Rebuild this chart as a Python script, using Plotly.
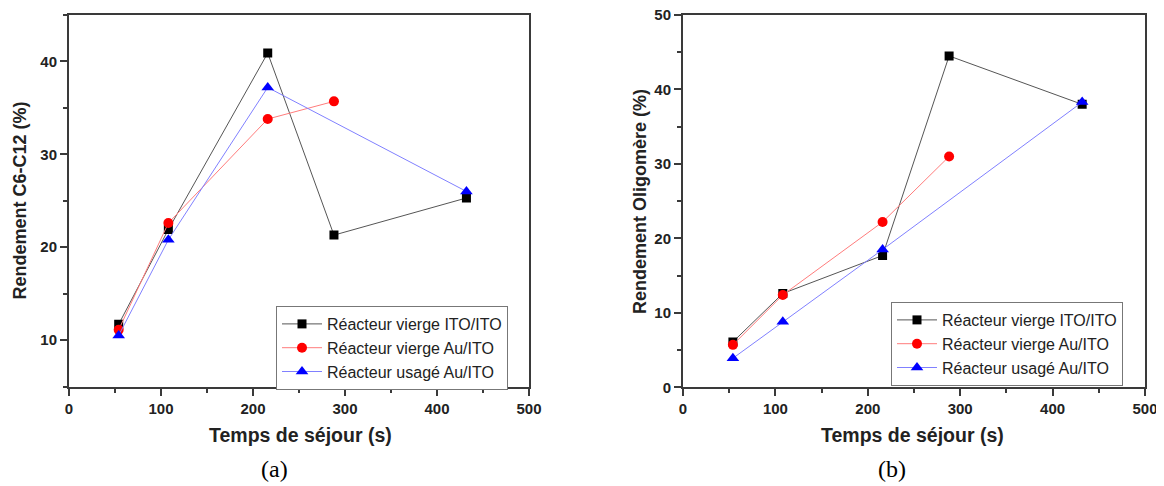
import plotly.graph_objects as go

# ---- data ----
x_all = [54, 108, 216, 288, 432]
x_vierge_au = [54, 108, 216, 288]
x_usage_au = [54, 108, 216, 432]

a_ito_ito = [11.7, 21.9, 40.9, 21.3, 25.3]
a_vierge_au = [11.1, 22.6, 33.8, 35.7]
a_usage_au = [10.5, 20.8, 37.2, 26.0]

b_ito_ito = [6.1, 12.6, 17.7, 44.5, 38.0]
b_vierge_au = [5.7, 12.4, 22.2, 31.0]
b_usage_au = [3.9, 8.8, 18.5, 38.3]

names = ["Réacteur vierge ITO/ITO", "Réacteur vierge Au/ITO", "Réacteur usagé Au/ITO"]
x_title = "Temps de séjour (s)"
y_title_a = "Rendement C6-C12 (%)"
y_title_b = "Rendement Oligomère (%)"

OFF = 8  # page body margin in the browser
W, H = 1164 - OFF, 486 - OFF
SANS = "Liberation Sans, Arial, sans-serif"
SERIF = "Liberation Serif, Times New Roman, serif"

styles = [
    dict(line=dict(color="#555555", width=1), marker=dict(symbol="square", size=9, color="#000000")),
    dict(line=dict(color="#ff7c7c", width=1), marker=dict(symbol="circle", size=10, color="#ff0000")),
    dict(line=dict(color="#8080ff", width=1), marker=dict(symbol="triangle-up", size=11, color="#0000ff")),
]

fig = go.Figure()
panel_a = [(x_all, a_ito_ito), (x_vierge_au, a_vierge_au), (x_usage_au, a_usage_au)]
panel_b = [(x_all, b_ito_ito), (x_vierge_au, b_vierge_au), (x_usage_au, b_usage_au)]
for i, (xs, ys) in enumerate(panel_a):
    fig.add_trace(go.Scatter(x=xs, y=ys, mode="lines+markers", name=names[i],
                             xaxis="x", yaxis="y", legend="legend", **styles[i]))
for i, (xs, ys) in enumerate(panel_b):
    fig.add_trace(go.Scatter(x=xs, y=ys, mode="lines+markers", name=names[i],
                             xaxis="x2", yaxis="y2", legend="legend2", **styles[i]))

def px_x(p):
    return (p - OFF) / W

def px_y(p):
    return 1 - (p - OFF) / H

tickfont = dict(family=SANS, size=15, color="#222222", weight="bold")
common = dict(showline=True, linecolor="#3a3a3a", linewidth=2, mirror=True,
              ticks="outside", ticklen=7, tickwidth=1.5, tickcolor="#3a3a3a",
              showgrid=False, zeroline=False, tickfont=tickfont, automargin=False,
              ticklabeloverflow="allow")
minor = dict(ticks="outside", ticklen=4, tickwidth=1.5, tickcolor="#3a3a3a", showgrid=False)

ya_top, ya_bot = 15, 386.5
yb_top, yb_bot = 15, 387.3

legend_font = dict(family=SANS, size=16, color="#222222")

fig.update_layout(
    template="none",
    width=W, height=H,
    margin=dict(l=0, r=0, t=0, b=0, pad=0, autoexpand=False),
    paper_bgcolor="white", plot_bgcolor="white",
    xaxis=dict(domain=[px_x(69), px_x(529)], range=[0, 500], tick0=0, dtick=100,
               minor=dict(dtick=50, **minor), anchor="y", **common),
    yaxis=dict(domain=[px_y(ya_bot), px_y(ya_top)], range=[5, 45], tick0=0, dtick=10,
               minor=dict(dtick=5, **minor), anchor="x", **common),
    xaxis2=dict(domain=[px_x(683), px_x(1145)], range=[0, 500], tick0=0, dtick=100,
                minor=dict(dtick=50, **minor), anchor="y2", **common),
    yaxis2=dict(domain=[px_y(yb_bot), px_y(yb_top)], range=[0, 50], tick0=0, dtick=10,
                minor=dict(dtick=5, **minor), anchor="x2", **common),
    legend=dict(x=px_x(276), y=px_y(306), xanchor="left", yanchor="top",
                bgcolor="white", bordercolor="#777777", borderwidth=1,
                itemwidth=40, font=legend_font),
    legend2=dict(x=px_x(891), y=px_y(302), xanchor="left", yanchor="top",
                 bgcolor="white", bordercolor="#777777", borderwidth=1,
                 itemwidth=40, font=legend_font),
)

ann = []
for cx in (300, 912):
    ann.append(dict(text=x_title, x=px_x(cx), y=px_y(435), xref="paper", yref="paper",
                    showarrow=False, xanchor="center", yanchor="middle",
                    font=dict(family=SANS, size=19.5, color="#222222", weight="bold")))
ann.append(dict(text=y_title_a, x=px_x(19.5), y=px_y(201), xref="paper", yref="paper",
                showarrow=False, xanchor="center", yanchor="middle", textangle=-90,
                font=dict(family=SANS, size=18, color="#222222", weight="bold")))
ann.append(dict(text=y_title_b, x=px_x(640), y=px_y(202), xref="paper", yref="paper",
                showarrow=False, xanchor="center", yanchor="middle", textangle=-90,
                font=dict(family=SANS, size=18, color="#222222", weight="bold")))
ann.append(dict(text="(a)", x=px_x(274), y=px_y(469), xref="paper", yref="paper",
                showarrow=False, xanchor="center", yanchor="middle",
                font=dict(family=SERIF, size=24, color="#000000")))
ann.append(dict(text="(b)", x=px_x(892), y=px_y(469), xref="paper", yref="paper",
                showarrow=False, xanchor="center", yanchor="middle",
                font=dict(family=SERIF, size=24, color="#000000")))
fig.update_layout(annotations=ann)

fig.write_html("out.html")
